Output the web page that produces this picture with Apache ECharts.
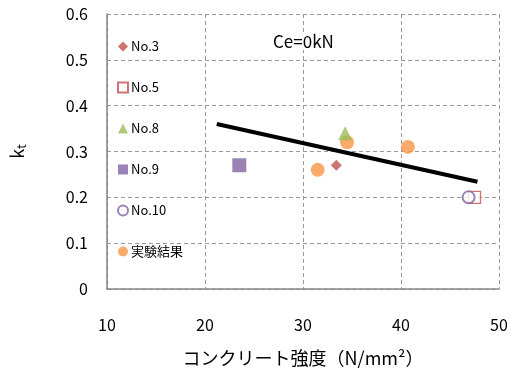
<!DOCTYPE html>
<html><head><meta charset="utf-8">
<script src="https://cdn.jsdelivr.net/npm/echarts@6/dist/echarts.min.js"></script>
<style>html,body{margin:0;padding:0;background:#fff}#c{width:512px;height:372px}</style>
</head><body><div id="c"></div>
<script>
var no3 = [[33.4, 0.27]];
var no5 = [[47.5, 0.20]];
var no8 = [[34.3, 0.34]];
var no9 = [[23.5, 0.27]];
var no10 = [[46.9, 0.20]];
var experiment = [[31.5, 0.26], [34.5, 0.32], [40.7, 0.31]];
var trendLine = [[21.2, 0.36], [47.8, 0.234]];
var xTicks = [10, 20, 30, 40, 50];
var yTicks = [0, 0.1, 0.2, 0.3, 0.4, 0.5, 0.6];
var legendNames = ['No.3', 'No.5', 'No.8', 'No.9', 'No.10', '実験結果'];

var font = '"Noto Sans CJK JP", "Noto Sans", sans-serif';
var chart = echarts.init(document.getElementById('c'));
var grid = { lineStyle: { color: '#999999', type: [4, 3], width: 1 } };
chart.setOption({
  animation: false,
  textStyle: { fontFamily: font },
  grid: { left: 102, right: 13, top: 14, bottom: 83 },
  title: {
    text: 'Ce=0kN', left: 269, top: 33,
    backgroundColor: '#fff', padding: [0, 4],
    textStyle: { fontSize: 17, fontWeight: 'normal', color: '#000', fontFamily: font }
  },
  legend: {
    orient: 'vertical', left: 112, top: 35, itemGap: 28, itemWidth: 10, itemHeight: 10,
    data: legendNames,
    textStyle: { fontSize: 13, color: '#000', padding: [0, 0, 0, -2] }
  },
  xAxis: {
    type: 'value', min: xTicks[0], max: xTicks[xTicks.length - 1], interval: 10,
    name: 'コンクリート強度（N/mm²）', nameLocation: 'middle', nameGap: 60,
    nameTextStyle: { fontSize: 18, color: '#000' },
    axisLine: { lineStyle: { color: '#868686', width: 1.5 } },
    axisTick: { show: false },
    axisLabel: { fontSize: 16, color: '#000', margin: 28 },
    splitLine: grid
  },
  yAxis: {
    type: 'value', min: yTicks[0], max: yTicks[yTicks.length - 1], interval: 0.1,
    name: '{k|k}{t|t}', nameLocation: 'middle', nameGap: 80, nameRotate: 90,
    nameTextStyle: { rich: { k: { fontSize: 18, color: '#000' }, t: { fontSize: 12, color: '#000', verticalAlign: 'bottom', padding: [8, 0, 0, 0] } } },
    axisLine: { show: true, lineStyle: { color: '#868686', width: 1.5 } },
    axisTick: { show: false },
    axisLabel: { fontSize: 16, color: '#000', margin: 19 },
    splitLine: grid
  },
  series: [
    { name: 'trend', type: 'line', data: trendLine, symbol: 'none', lineStyle: { color: '#000', width: 4 }, z: 1, silent: true },
    { name: 'No.3', type: 'scatter', data: no3, symbol: 'diamond', symbolSize: 11, itemStyle: { color: '#C0504D' }, z: 3 },
    { name: 'No.5', type: 'scatter', data: no5, symbol: 'rect', symbolSize: 12, itemStyle: { color: '#fff', borderColor: '#C0504D', borderWidth: 1.3 }, z: 3 },
    { name: 'No.8', type: 'scatter', data: no8, symbol: 'triangle', symbolSize: 14, itemStyle: { color: '#9BBB59' }, z: 3 },
    { name: 'No.9', type: 'scatter', data: no9, symbol: 'rect', symbolSize: 14, itemStyle: { color: '#8064A2' }, z: 3 },
    { name: 'No.10', type: 'scatter', data: no10, symbol: 'emptyCircle', symbolSize: 12, itemStyle: { color: '#8064A2', borderWidth: 1.3 }, z: 4 },
    { name: '実験結果', type: 'scatter', data: experiment, symbol: 'circle', symbolSize: 14, itemStyle: { color: '#F79646' }, z: 2 }
  ]
});
</script></body></html>
